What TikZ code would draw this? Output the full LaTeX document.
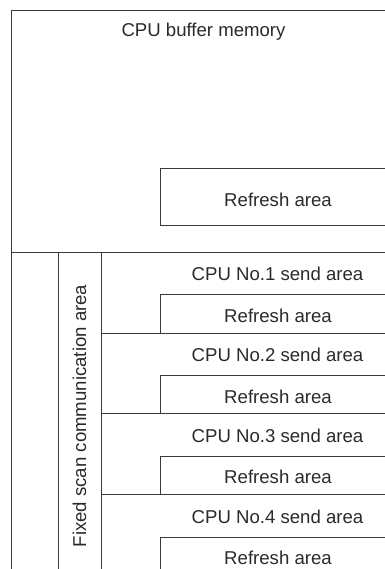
\documentclass[tikz,border=0pt]{standalone}
\usepackage{fontspec}
\setmainfont{Liberation Sans}
\definecolor{ln}{HTML}{3A3A3A}
\definecolor{tx}{HTML}{2A2A2A}
\begin{document}
\begin{tikzpicture}[x=1pt,y=-1pt,
  frame/.style={draw=ln,line width=1pt},
  lbl/.style={text=tx,font=\fontsize{18.6}{20}\selectfont,inner sep=0pt,anchor=center}]
\useasboundingbox (0,0) rectangle (384,569);
% coordinates
\coordinate (tl) at (11.5,10.5);
\coordinate (tr) at (385,10.5);
\coordinate (bl) at (11.5,570);
% outer frame
\draw[frame] (bl) -- (tl) -- (tr);
\draw[frame] (11.5,252) -- (385,252);
% upper refresh box
\draw[frame] (385,168.5) -- (160,168.5) -- (160,225.5) -- (385,225.5);
% lower columns
\draw[frame] (58,252) -- (58,570);
\draw[frame] (101,252) -- (101,570);
\foreach \y in {333,413.5,494}{\draw[frame] (101,\y) -- (385,\y);}
\foreach \t/\b in {294/333,375/413.5,456/494,537/570}{
  \draw[frame] (385,\t) -- (160,\t) -- (160,\b);}
% texts
\node[lbl] (cbm) at (203.5,32) {CPU buffer memory};
\node[lbl] (r0) at (278,200) {Refresh area};
\node[lbl,rotate=90] (fsc) at (79.5,416) {Fixed scan communication area};
\node[lbl] (s1) at (277.5,274) {CPU No.1 send area};
\node[lbl] (r1) at (278,316) {Refresh area};
\node[lbl] (s2) at (277.5,355) {CPU No.2 send area};
\node[lbl] (r2) at (278,397) {Refresh area};
\node[lbl] (s3) at (277.5,436) {CPU No.3 send area};
\node[lbl] (r3) at (278,477) {Refresh area};
\node[lbl] (s4) at (277.5,517) {CPU No.4 send area};
\node[lbl] (r4) at (278,558) {Refresh area};
\end{tikzpicture}
\end{document}
